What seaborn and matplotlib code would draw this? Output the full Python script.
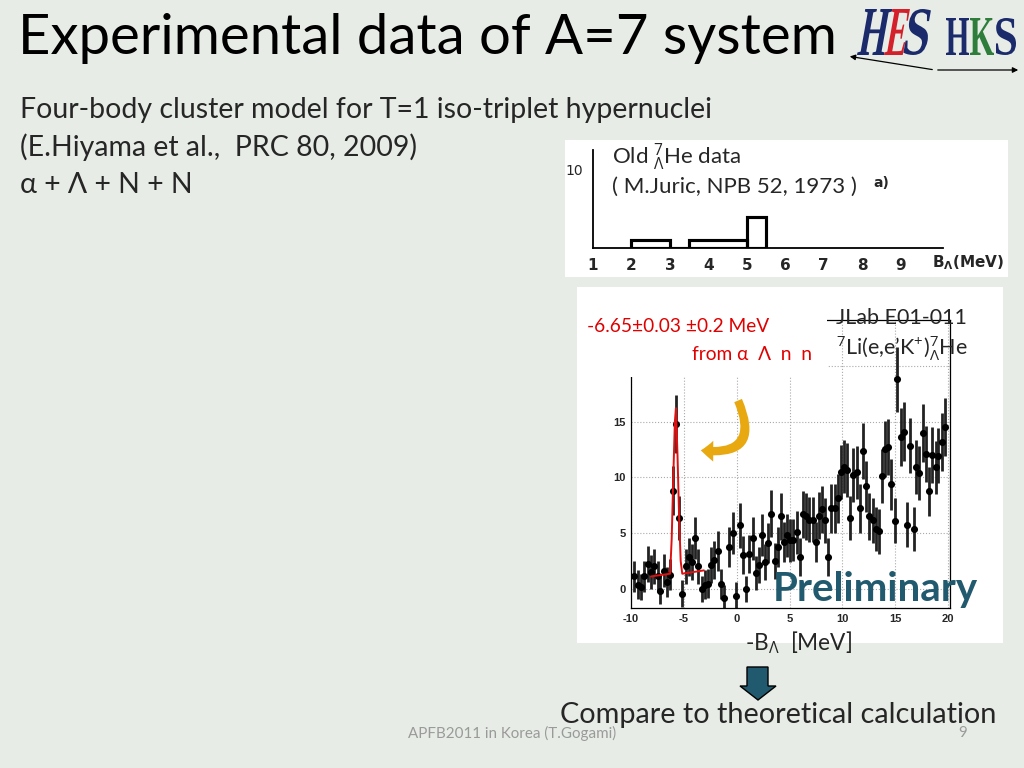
import numpy as np
import pandas as pd
import matplotlib
matplotlib.use("Agg")
import matplotlib.pyplot as plt
import seaborn as sns
from matplotlib.patches import Rectangle, Polygon, FancyArrowPatch, PathPatch
from matplotlib.textpath import TextPath
from matplotlib.font_manager import FontProperties
from matplotlib.transforms import Affine2D

# --- old 7LHe data (M.Juric) ---
old_edges = [2.0, 3.0, 3.5, 5.0, 5.5]
old_counts = [1, 0, 1, 4]
old_ticks = [1, 2, 3, 4, 5, 6, 7, 8, 9]

# --- JLab E01-011 spectrum ---
bl_x = [-9.68, -9.37, -9.05, -8.74, -8.42, -8.11, -7.79, -7.48, -7.23, -6.91,
        -6.60, -6.30, -6.03, -5.75, -5.44, -5.15, -4.83, -4.52, -4.23, -3.95,
        -3.63, -3.32, -3.00, -2.69, -2.44, -2.12, -1.80, -1.52, -1.21, -0.70,
        -0.36, -0.04, 0.27, 0.56, 0.87, 1.19, 1.50, 1.79, 2.07, 2.35,
        2.70, 2.92, 3.27, 3.58, 3.87, 4.15, 4.47, 4.75, 5.06, 5.35,
        5.66, 5.95, 6.26, 6.55, 6.86, 7.18, 7.46, 7.74, 8.06, 8.34,
        8.66, 8.94, 9.26, 9.54, 9.85, 10.17, 10.45, 10.74, 11.05, 11.34,
        11.65, 11.93, 12.25, 12.53, 12.85, 13.16, 13.45, 13.73, 14.01, 14.33,
        14.61, 14.93, 15.21, 15.53, 15.84, 16.13, 16.44, 16.73, 17.01, 17.29,
        17.61, 17.92, 18.21, 18.49, 18.81, 19.09, 19.40, 19.69]
counts = [1.13, 0.39, 0.18, 1.13, 2.24, 1.52, 2.03, 1.13, -0.15, 1.64,
          0.63, 1.28, 8.80, 14.80, 6.35, -0.42, 2.03, 2.86, 2.42, 4.56,
          2.03, 0.00, 0.39, 0.48, 2.18, 2.56, 3.43, 0.45, -0.80, 3.76,
          5.00, -0.60, 5.70, 3.04, 0.00, 3.13, 4.53, 1.43, 2.18, 4.86,
          2.39, 4.12, 6.74, 2.48, 3.76, 6.50, 4.21, 4.80, 4.35, 4.41,
          5.07, 2.86, 6.71, 6.50, 6.20, 6.20, 4.18, 6.56, 7.16, 6.14,
          2.83, 7.25, 7.25, 8.14, 10.47, 10.97, 10.68, 6.35, 10.23, 10.44,
          7.25, 12.38, 9.19, 6.50, 6.14, 5.37, 5.16, 10.14, 12.56, 12.70,
          9.39, 6.11, 18.79, 13.60, 14.11, 5.76, 12.85, 5.37, 10.92, 10.38,
          13.96, 12.11, 8.74, 12.02, 10.89, 11.96, 13.21, 14.49]
errors = [1.4, 1.3, 1.2, 1.4, 1.6, 1.5, 1.6, 1.4, 1.2, 1.5,
          1.3, 1.4, 2.2, 2.6, 2.0, 1.2, 1.6, 1.7, 1.6, 1.9,
          1.6, 1.2, 1.3, 1.3, 1.6, 1.7, 1.8, 1.3, 1.2, 1.8,
          1.9, 1.2, 2.0, 1.7, 1.2, 1.7, 1.9, 1.5, 1.6, 1.9,
          1.6, 1.8, 2.1, 1.6, 1.8, 2.1, 1.8, 1.9, 1.9, 1.9,
          1.9, 1.7, 2.1, 2.1, 2.0, 2.0, 1.8, 2.1, 2.1, 2.0,
          1.7, 2.2, 2.2, 2.2, 2.4, 2.4, 2.4, 2.0, 2.4, 2.4,
          2.2, 2.5, 2.3, 2.1, 2.0, 2.0, 2.0, 2.4, 2.5, 2.5,
          2.3, 2.0, 2.9, 2.6, 2.6, 2.0, 2.5, 2.0, 2.4, 2.4,
          2.6, 2.5, 2.2, 2.5, 2.4, 2.5, 2.6, 2.6]

# fitted peak (red curve)
fit_x = [-8.10, -6.30, -6.15, -6.00, -5.85, -5.75, -5.60, -5.45, -5.30, -5.15, -3.10]
fit_y = [1.13, 1.37, 4.5, 10.0, 15.0, 16.2, 12.0, 6.5, 2.5, 1.37, 1.67]

spec = pd.DataFrame({"x": bl_x, "y": counts, "err": errors})
fit = pd.DataFrame({"x": fit_x, "y": fit_y})

BG = "#E7ECE6"
TEAL = "#215A6E"
sns.set_theme(style="white")
plt.rcParams["font.family"] = ["Lato", "DejaVu Sans"]
plt.rcParams["mathtext.fontset"] = "custom"
plt.rcParams["mathtext.rm"] = "Open Sans"
plt.rcParams["mathtext.it"] = "Open Sans:italic"
plt.rcParams["mathtext.bf"] = "Open Sans:bold"

fig = plt.figure(figsize=(10.24, 7.68), dpi=100, facecolor=BG)


def px_axes(z):
    a = fig.add_axes([0, 0, 1, 1], zorder=z)
    a.set_xlim(0, 1024)
    a.set_ylim(768, 0)
    a.axis("off")
    a.patch.set_alpha(0)
    return a


def fig_rect(x0, y0, x1, y1):
    return [x0 / 1024, 1 - y1 / 768, (x1 - x0) / 1024, (y1 - y0) / 768]


def logo_letter(a, ch, x0, x1, ytop, ybot, color, slant=0.0):
    # letter stretched into a box, like the condensed logo type
    p = TextPath((0, 0), ch, size=1,
                 prop=FontProperties(family="Liberation Serif", weight="bold"))
    ext = p.get_extents()
    sx = (x1 - x0) / ext.width
    sy = (ybot - ytop) / ext.height
    tr = (Affine2D().translate(-ext.x0, -ext.y0).scale(sx, -sy)
          .skew_deg(0, 0).translate(x0, ybot))
    tr = tr + Affine2D().translate(0, 0)
    verts = tr.transform(p.vertices)
    verts[:, 0] += slant * (ybot - verts[:, 1])
    from matplotlib.path import Path
    a.add_patch(PathPatch(Path(verts, p.codes), facecolor=color, edgecolor="none"))


# background layer: slide text and white panels
bg = px_axes(-5)
bg.add_patch(Rectangle((565, 140), 443, 137, facecolor="white", edgecolor="none"))
bg.add_patch(Rectangle((577, 287), 426, 356, facecolor="white", edgecolor="none"))
bg.text(18, 38, "Experimental data of A=7 system", fontsize=40.5, va="center", color="black")
bg.text(20, 110, "Four-body cluster model for T=1 iso-triplet hypernuclei", fontsize=20.5, va="center")
bg.text(20, 147, "(E.Hiyama et al.,  PRC 80, 2009)", fontsize=20.5, va="center")
bg.text(20, 185, "α + Λ + N + N", fontsize=20.5, va="center")
bg.text(745, 643, r"-B$_{\mathrm{\Lambda}}$  [MeV]", fontsize=16.3, va="center")
bg.add_patch(Polygon([(747, 667), (768, 667), (768, 686), (776, 686), (758, 700),
                      (740, 686), (747, 686)], closed=True,
                     facecolor=TEAL, edgecolor="black", lw=1))
bg.text(560, 715, "Compare to theoretical calculation", fontsize=20.8, va="center")
bg.text(408, 733, "APFB2011 in Korea (T.Gogami)", fontsize=10.9, va="center", color="#9A9A9A")
bg.text(958, 733, "9", fontsize=10.9, va="center", color="#9A9A9A")

# logo
logo_letter(bg, "H", 857, 884, 9, 55, "#1B2A6B", slant=0.18)
logo_letter(bg, "E", 884, 903, 9, 55, "#D4202A", slant=0.18)
logo_letter(bg, "S", 903, 925, 9, 55, "#1B2A6B", slant=0.18)
logo_letter(bg, "H", 946, 969, 18, 55, "#1B2A6B")
logo_letter(bg, "K", 970, 994, 18, 55, "#2E7D3A")
logo_letter(bg, "S", 996, 1016, 18, 55, "#1B2A6B")
bg.annotate("", xy=(847, 56), xytext=(935, 70),
            arrowprops=dict(arrowstyle="-|>", color="black", lw=0.9, mutation_scale=8))
bg.annotate("", xy=(1021, 70), xytext=(935, 70),
            arrowprops=dict(arrowstyle="-|>", color="black", lw=0.9, mutation_scale=8))

# old histogram
ax_h = fig.add_axes(fig_rect(593, 150, 943, 248), zorder=1)
ax_h.patch.set_alpha(0)
sns.histplot(x=[(a + b) / 2 for a, b in zip(old_edges[:-1], old_edges[1:])],
             weights=old_counts, bins=old_edges, element="bars", fill=False,
             color="black", lw=1.5, ax=ax_h)
ax_h.set_xlim(1, 10.1)
ax_h.set_ylim(0, 12.45)
for s in ["top", "right"]:
    ax_h.spines[s].set_visible(False)
for s in ["left", "bottom"]:
    ax_h.spines[s].set_color("black")
    ax_h.spines[s].set_linewidth(1.3)
ax_h.set_xticks(old_ticks)
ax_h.set_xticklabels([str(t) for t in old_ticks], fontsize=11, fontweight="bold",
                     family="DejaVu Sans")
ax_h.set_yticks([10])
ax_h.set_yticklabels(["10"], fontsize=10, family="DejaVu Sans")
ax_h.tick_params(axis="both", direction="out", length=5, width=1.2, color="black", pad=2)
ax_h.set_xlabel("")
ax_h.set_ylabel("")
bg.text(612, 157, r"Old $^{7}_{\mathrm{\Lambda}}$He data", fontsize=16, va="center")
bg.text(612, 187, "( M.Juric, NPB 52, 1973 )", fontsize=16, va="center")
bg.text(873, 183, "a)", fontsize=10, fontweight="bold", family="DejaVu Sans", va="center")
bg.text(932, 263, r"B$_{\mathbf{\Lambda}}$(MeV)", fontsize=11, fontweight="bold",
        family="DejaVu Sans", math_fontfamily="dejavusans", va="center")

# JLab spectrum
ax = fig.add_axes(fig_rect(631, 320, 950, 608), zorder=1)
ax.set_facecolor("white")
ax.errorbar(spec["x"], spec["y"], yerr=spec["err"], fmt="none", ecolor="#222222",
            elinewidth=2, capsize=0, zorder=2)
sns.scatterplot(data=spec, x="x", y="y", color="black", s=26, edgecolor="black",
                linewidth=0, zorder=3, ax=ax)
sns.lineplot(data=fit, x="x", y="y", sort=False, color="#E01010", lw=1.4,
             estimator=None, zorder=4, ax=ax)
ax.set_xlim(-10, 20.18)
ax.set_ylim(-1.7, 24.1)
ax.set_xticks([-10, -5, 0, 5, 10, 15, 20])
ax.set_xticks(np.arange(-10, 21, 1), minor=True)
ax.set_yticks([0, 5, 10, 15, 20])
ax.set_yticks(np.arange(-1, 25, 1), minor=True)
ax.set_xticklabels(["-10", "-5", "0", "5", "10", "15", "20"], fontsize=8,
                   fontweight="bold", family="Liberation Sans")
ax.set_yticklabels(["0", "5", "10", "15", ""], fontsize=8, fontweight="bold",
                   family="Liberation Sans")
ax.tick_params(axis="both", which="major", direction="in", length=7, width=0.8,
               color="black", pad=4, top=False, right=False)
ax.tick_params(axis="both", which="minor", direction="in", length=3.5, width=0.6,
               color="black", top=False, right=False)
ax.grid(True, which="major", color="#AAAAAA", linestyle=":", lw=0.8)
for s in ax.spines.values():
    s.set_color("black")
    s.set_linewidth(0.9)
ax.set_xlabel("")
ax.set_ylabel("")

# overlay layer: labels on top of the spectrum
top = px_axes(10)
top.add_patch(Rectangle((577, 287), 250, 90, facecolor="white", edgecolor="none"))
top.text(587, 326, "-6.65±0.03 ±0.2 MeV", fontsize=13.8, color="#E00000", va="center")
top.text(812, 355, "from α  Λ  n  n", fontsize=13.8, color="#E00000", va="center", ha="right")
top.text(836, 318, "JLab E01-011", fontsize=15.5, va="center")
top.text(836, 348, r"$^{7}$Li(e,e’K$^{+}$)$^{7}_{\mathrm{\Lambda}}$He", fontsize=15.5, va="center")
top.text(773, 590, "Preliminary", fontsize=29, fontweight="bold", color=TEAL, va="center")
top.add_patch(FancyArrowPatch((737, 398), (698, 450), connectionstyle="arc3,rad=-0.9",
                              arrowstyle="simple,head_length=9,head_width=15,tail_width=6",
                              color="#E8A810", lw=0))

fig.savefig("out.png", dpi=100, facecolor=BG)
